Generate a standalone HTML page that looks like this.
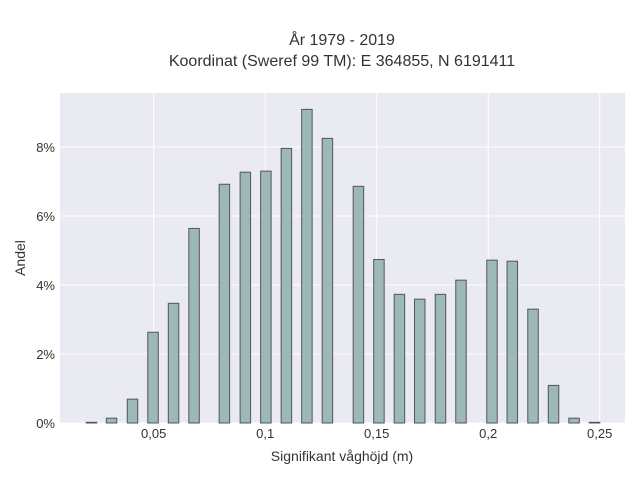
<!DOCTYPE html>
<html><head><meta charset="utf-8"><style>
body{margin:0;background:#fff;}
svg{display:block;font-family:"Liberation Sans",sans-serif;}
</style></head><body>
<svg width="640" height="480">
<g id="root"></g>
</svg>
<script>
const binCenters=[0.0221,0.0311,0.0405,0.0497,0.0589,0.0681,0.0817,0.0911,0.1003,0.1095,0.1187,0.1279,0.1418,0.1510,0.1602,0.1693,0.1786,0.1878,0.2017,0.2108,0.2201,0.2293,0.2385,0.2477];
const shares=[0.02,0.14,0.69,2.63,3.47,5.64,6.92,7.27,7.30,7.96,9.09,8.25,6.86,4.74,3.73,3.59,3.73,4.14,4.72,4.69,3.30,1.09,0.14,0.02];
const xTicks=[0.05,0.1,0.15,0.2,0.25];
const xTickLabels=["0,05","0,1","0,15","0,2","0,25"];
const yTicks=[0,2,4,6,8];
const yTickLabels=["0%","2%","4%","6%","8%"];
const barWidth=0.0047;
const L=60,R=625,T=93,B=423;
const xs=v=>153.7+(v-0.05)*2230;
const ys=v=>B-v*34.5;
const NS="http://www.w3.org/2000/svg";
const root=document.getElementById('root');
function mk(tag,attrs,parent){const e=document.createElementNS(NS,tag);for(const k in attrs)e.setAttribute(k,attrs[k]);(parent||root).appendChild(e);return e;}
const bg=mk('rect',{x:L,y:T,width:R-L,height:B-T,fill:'#eaeaf2'});


xTicks.forEach((t,i)=>{
  const g=mk('line',{x1:xs(t),x2:xs(t),y1:T,y2:B,stroke:'#fff','stroke-width':1});
  
  
  const lb=mk('text',{x:xs(t),y:438,'text-anchor':'middle','font-size':13,fill:'#333'});
  lb.textContent=xTickLabels[i];
  
  
});
yTicks.forEach((t,i)=>{
  const g=mk('line',{x1:L,x2:R,y1:ys(t),y2:ys(t),stroke:'#fff','stroke-width':1});
  
  
  const lb=mk('text',{x:55,y:ys(t)+5,'text-anchor':'end','font-size':13,fill:'#333'});
  lb.textContent=yTickLabels[i];
  
  
});
binCenters.forEach((c,i)=>{
  const x0=xs(c-barWidth/2),x1=xs(c+barWidth/2);
  const b=mk('rect',{x:x0,y:ys(shares[i]),width:x1-x0,height:B-ys(shares[i]),fill:'#9db8b8',stroke:'#555','stroke-width':1});
  
  
});
</script>
<svg width="640" height="480" style="position:absolute;left:0;top:0;font-family:'Liberation Sans',sans-serif">
<text x="342" y="45" text-anchor="middle" font-size="16" fill="#333">År 1979 - 2019</text>
<text x="342" y="66" text-anchor="middle" font-size="16" fill="#333">Koordinat (Sweref 99 TM): E 364855, N 6191411</text>
<text x="342" y="461" text-anchor="middle" font-size="14" fill="#333">Signifikant våghöjd (m)</text>
<text x="25" y="258" text-anchor="middle" font-size="14" fill="#333" transform="rotate(-90 25 258)">Andel</text>
</svg>
</body></html>
